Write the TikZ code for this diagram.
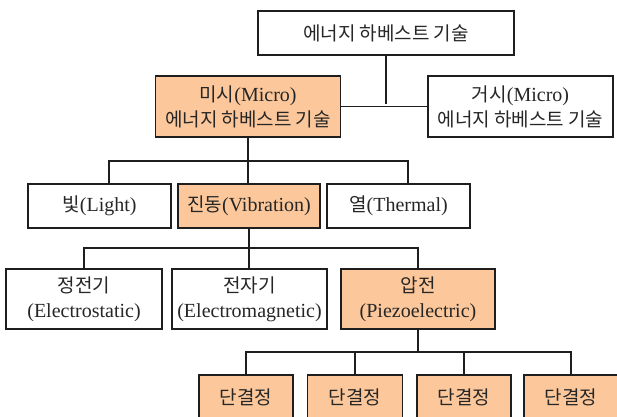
\documentclass[tikz,border=0pt]{standalone}
\usepackage{fontspec}
\setmainfont{Liberation Serif}
\newfontfamily\kr{Noto Sans CJK KR}[Scale=0.95]
\definecolor{peach}{RGB}{252,200,155}
\definecolor{edge}{RGB}{30,30,30}
\tikzset{
  box/.style={draw=edge, line width=1.6pt, fill=white, align=center, inner sep=0pt,
    font=\fontsize{20}{25}\selectfont, text=black!85},
  hot/.style={box, fill=peach},
  wire/.style={draw=edge, line width=1.8pt}
}
\begin{document}
\begin{tikzpicture}[x=1pt,y=-1pt]
\useasboundingbox (0,0) rectangle (617,416);
\clip (0,0) rectangle (617,416);
\fill[white] (0,0) rectangle (617,416);
% level 0
\node[box, minimum width=256, minimum height=44] (top) at (386,33) {{\kr 에너지 하베스트 기술}};
% level 1
\node[hot, minimum width=185, minimum height=61] (micro) at (248,106.5) {{\kr 미시}(Micro)\\{\kr 에너지 하베스트 기술}};
\node[box, minimum width=185, minimum height=61] (macro) at (520.5,106.5) {{\kr 거시}(Micro)\\{\kr 에너지 하베스트 기술}};
% level 2
\node[box, minimum width=143, minimum height=44] (light) at (99.5,206) {{\kr 빛}(Light)};
\node[hot, minimum width=142, minimum height=44] (vib) at (249,206) {{\kr 진동}(Vibration)};
\node[box, minimum width=143, minimum height=44] (therm) at (398.5,206) {{\kr 열}(Thermal)};
% level 3
\node[box, minimum width=156, minimum height=60] (es) at (84,299) {{\kr 정전기}\\(Electrostatic)};
\node[box, minimum width=155, minimum height=60] (em) at (249.5,299) {{\kr 전자기}\\(Electromagnetic)};
\node[hot, minimum width=154, minimum height=60] (pz) at (418,299) {{\kr 압전}\\(Piezoelectric)};
% level 4
\node[hot, minimum width=94, minimum height=44] (c1) at (246,397) {{\kr 단결정}};
\node[hot, minimum width=95, minimum height=44] (c2) at (355,397) {{\kr 단결정}};
\node[hot, minimum width=94, minimum height=44] (c3) at (464,397) {{\kr 단결정}};
\node[hot, minimum width=94, minimum height=44] (c4) at (571,397) {{\kr 단결정}};
% junctions
\coordinate (j0) at (386,104);
\coordinate (j1) at (248,161);
\coordinate (j2) at (249,248);
\coordinate (j3) at (418,352);
% connectors
\draw[wire] (top.south) -- (j0);
\draw[wire] (micro.east) -- (macro.west);
\draw[wire] (micro.south) -- (j1);
\draw[wire] ([xshift=9.5pt]light.north) |- (j1) -| ([xshift=9.5pt]therm.north);
\draw[wire] (j1) -- (j1 |- vib.north);
\draw[wire] (vib.south) -- (j2);
\draw[wire] (es.north) |- (j2) -| (pz.north);
\draw[wire] (j2) -- (j2 |- em.north);
\draw[wire] (pz.south) -- (j3);
\draw[wire] (c1.north) |- (j3) -| (c4.north);
\draw[wire] (c2.north) -- (c2.north |- j3);
\draw[wire] (c3.north) -- (c3.north |- j3);
\end{tikzpicture}
\end{document}
